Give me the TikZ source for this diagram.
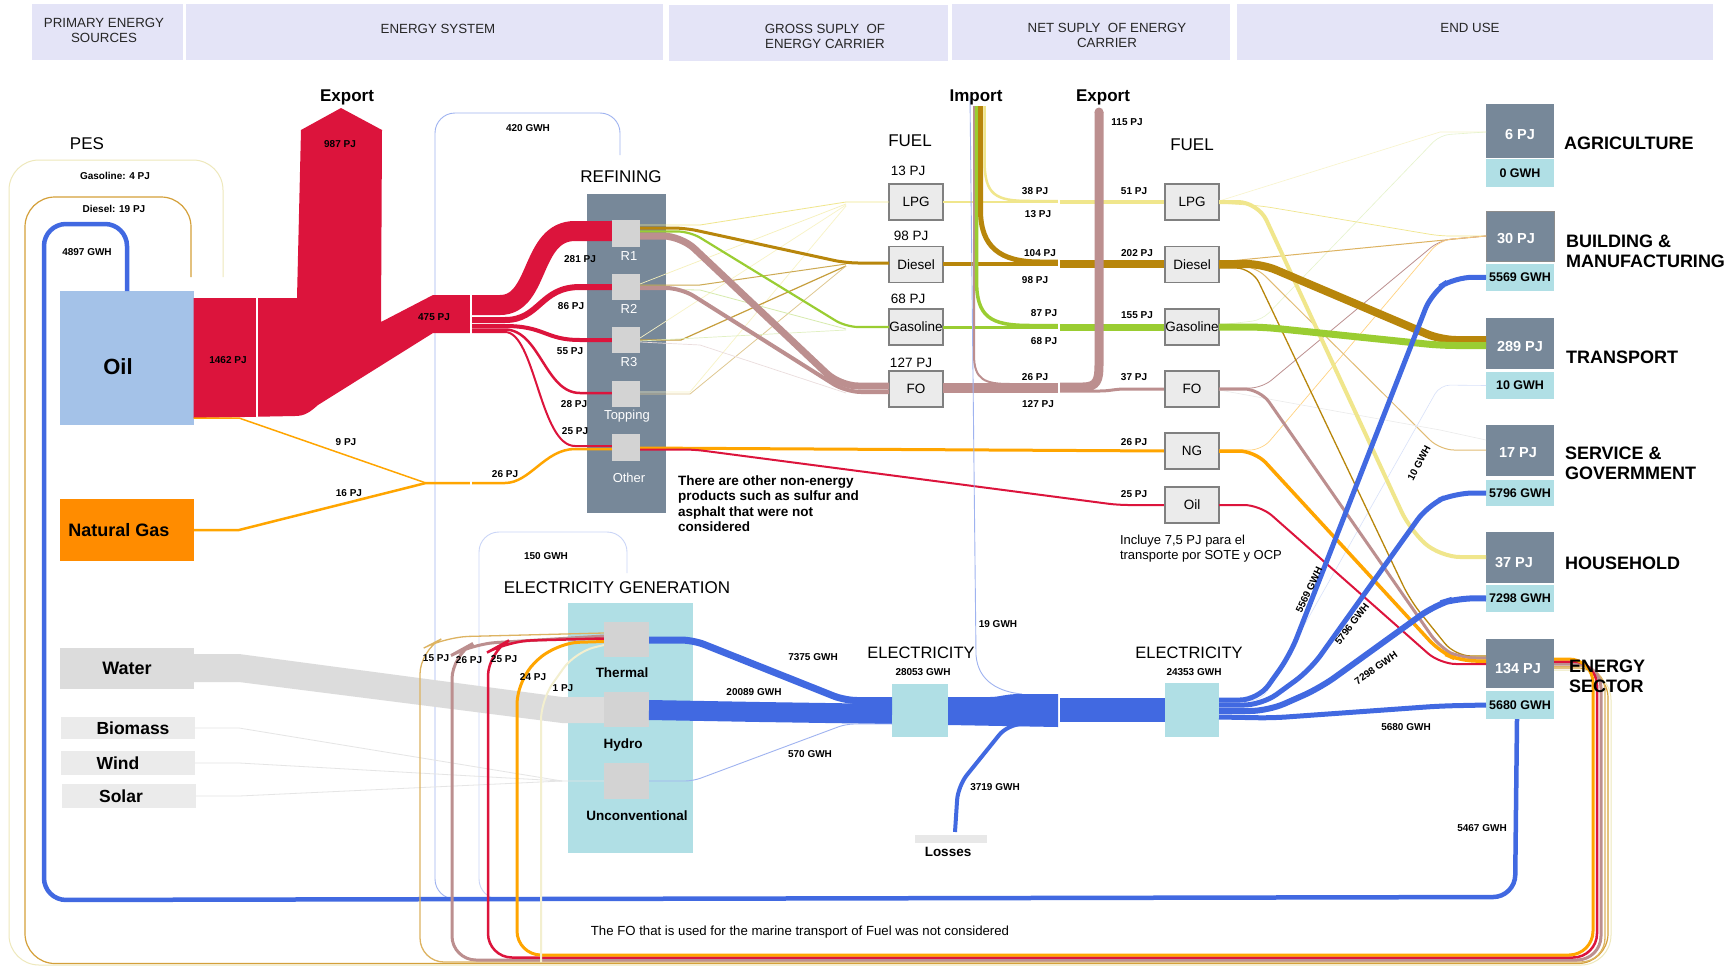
\documentclass[tikz,border=0pt]{standalone}
\usepackage{fontspec}
\setmainfont{Liberation Sans}
\usetikzlibrary{calc}
\definecolor{hdr}{HTML}{E4E4F7}
\definecolor{oilc}{HTML}{A4C2E8}
\definecolor{ngbox}{HTML}{FF8C00}
\definecolor{crim}{HTML}{DC143C}
\definecolor{slate}{HTML}{778899}
\definecolor{gold}{HTML}{B8860B}
\definecolor{ygreen}{HTML}{9ACD32}
\definecolor{rosy}{HTML}{BC8F8F}
\definecolor{khaki}{HTML}{F0E68C}
\definecolor{orng}{HTML}{FFA500}
\definecolor{royal}{HTML}{4169E1}
\definecolor{lblue}{HTML}{9FB3F0}
\definecolor{powder}{HTML}{B0DFE5}
\definecolor{subgray}{HTML}{D3D3D3}
\definecolor{lgray}{HTML}{EBEBEB}
\definecolor{wgray}{HTML}{DCDCDC}
\definecolor{goldr}{HTML}{D4A03A}
\definecolor{beige}{HTML}{EEE8BB}
\newcommand\lowr[2]{\raisebox{-#1pt}[\height][\depth]{#2}}
\begin{document}
\begin{tikzpicture}[x=1pt,y=-1pt,
  every node/.style={inner sep=0pt, outer sep=0pt},
  hdrbox/.style={fill=hdr, minimum height=56pt},
  hdrtxt/.style={align=center, text=black!85, font=\fontsize{13.3}{14.8}\selectfont},
  lab/.style={font=\fontsize{10}{12}\selectfont\bfseries},
  ttl/.style={font=\fontsize{17}{20}\selectfont},
  bttl/.style={font=\fontsize{17}{20}\selectfont\bfseries},
  srcbox/.style={minimum width=134pt, font=\bfseries},
  subbox/.style={fill=subgray, minimum width=28pt},
  rlab/.style={text=white, font=\fontsize{13}{15}\selectfont},
  fuelbox/.style={fill=lgray, draw=black!50, line width=1.2pt, minimum width=54pt, minimum height=36pt, font=\fontsize{13.5}{16}\selectfont},
  genbox/.style={fill=subgray, minimum width=45pt, minimum height=35pt},
  genlab/.style={font=\fontsize{13.5}{16}\selectfont\bfseries},
  usebox/.style={fill=slate, minimum width=68pt, text=white, font=\fontsize{14.5}{17}\selectfont\bfseries},
  gwhbox/.style={fill=powder, minimum width=68pt, font=\fontsize{12.5}{15}\selectfont\bfseries},
  uselab/.style={anchor=west, align=left, font=\fontsize{18}{20}\selectfont\bfseries},
  note/.style={align=left, anchor=north west, font=\fontsize{12.5}{15}\selectfont},
]
\useasboundingbox (0,0) rectangle (1736,966);
\fill[white] (0,0) rectangle (1736,966);

% ---------- headers
\node[hdrbox, minimum width=151pt] (h1) at (107.5,32) {};
\node[hdrbox, minimum width=477pt] (h2) at (424.5,32) {};
\node[hdrbox, minimum width=279pt] (h3) at (808.5,33) {};
\node[hdrbox, minimum width=278pt] (h4) at (1091,32) {};
\node[hdrbox, minimum width=476pt] (h5) at (1475,32) {};
\node[hdrtxt] (h1t) at (104,30.5) {PRIMARY ENERGY\\SOURCES};
\node[hdrtxt] (h2t) at (438,29) {ENERGY SYSTEM};
\node[hdrtxt] (h3t) at (825,36.5) {GROSS SUPLY\ \ OF\\ENERGY CARRIER};
\node[hdrtxt] (h4t) at (1107,35.5) {NET SUPLY\ \ OF ENERGY\\CARRIER};
\node[hdrtxt] (h5t) at (1470,28) {END USE};

% ---------- coordinates for free ends
\coordinate (refin) at (620,155);
\coordinate (genin) at (627,573);

% ---------- background boxes
\node[fill=slate, minimum width=79pt, minimum height=319pt] (refining) at (626.5,353.5) {};
\node[fill=powder, minimum width=125pt, minimum height=250pt] (egen) at (630.5,728) {};

% ---------- source boxes
\node[srcbox, fill=oilc, minimum height=134pt, font=\fontsize{22}{24}\selectfont\bfseries] (oil) at (126.5,358) {\lowr{9}{Oil}\hspace*{17pt}};
\node[srcbox, fill=ngbox, minimum height=62pt, font=\fontsize{18}{20}\selectfont\bfseries] (ng) at (127,530) {Natural Gas\hspace*{16pt}};
\node[srcbox, fill=wgray, minimum height=41pt, font=\fontsize{18}{20}\selectfont\bfseries] (water) at (127,668.5) {Water};
\node[srcbox, fill=lgray, minimum height=22pt, font=\fontsize{17.5}{20}\selectfont\bfseries] (biomass) at (128,728) {\hspace*{10pt}Biomass};
\node[srcbox, fill=lgray, minimum height=24pt, font=\fontsize{17.5}{20}\selectfont\bfseries] (wind) at (128,763) {Wind\hspace*{20pt}};
\node[srcbox, fill=lgray, minimum height=24pt, font=\fontsize{17.5}{20}\selectfont\bfseries] (solar) at (129,796) {Solar\hspace*{16pt}};

% ---------- electricity return loops (behind)
\draw[lblue, line width=0.9, rounded corners=20] (470,899) -- (435,899) -- (435,113) -- (620,113) -- (refin);
\draw[lblue!55, line width=0.9, rounded corners=20] (515,899) -- (479,899) -- (479,532) -- (627,532) -- (genin);

% ---------- fuel loops back from energy sector (far left ones)
\draw[beige, line width=1, rounded corners=30] (1554,670) -- (1611,670) -- (1611,965) -- (9,965) -- (9,160) -- (223,160) -- (223,277);
\draw[goldr, line width=1.2, rounded corners=30] (1554,668) -- (1608,668) -- (1608,963.5) -- (25,963.5) -- (25,197) -- (191,197) -- (191,277);

% ---------- water and renewables to generation
\fill[wgray] (water.east |- 0,654) -- (239,654) -- (562,697) -- (604,697) -- (604,723) -- (562,723) -- (239,682) -- (water.east |- 0,682) -- cycle;
\draw[black!10, line width=0.8] (biomass.east) -- (239,728) -- (562,781) -- (604,781);
\draw[black!10, line width=0.8] (wind.east) -- (239,763) -- (562,781);
\draw[black!10, line width=0.8] (solar.east) -- (239,796) -- (562,781);

% ---------- big blue return loop
\draw[royal, line width=4.5, rounded corners=22] (1517,719) -- (1515,897) -- (44,900) -- (44,224) -- (127,224) -- (oil.north -| 127,0);

% ---------- fuel feeds to thermal
\draw[goldr!80, line width=1.3, rounded corners=24] (1554,666.5) -- (1605,666.5) -- (1605,962) -- (420,962) -- (420,650) -- (445,637) -- (604,633);
\draw[rosy, line width=3, rounded corners=24] (1554,664) -- (1601,664) -- (1601,960) -- (452,960) -- (452,655) -- (472,644) -- (604,636);
\draw[crim, line width=2.5, rounded corners=24] (1554,661.5) -- (1597,661.5) -- (1597,957.5) -- (488,957.5) -- (488,652) -- (508,641) -- (604,638.5);
\draw[orng, line width=3, rounded corners=24] (1554,659) -- (1593,659) -- (1593,955) -- (517,955) -- (517,680) -- (555,643) -- (604,641.5);
\draw[beige!70, line width=2, rounded corners=20] (541,962) -- (541,700) -- (575,652) -- (604,645);

% ---------- oil main flow
\fill[crim] (oil.east |- 0,298) -- (297,298) -- (301,130) -- (341,108) -- (382,130) -- (381,322) -- (433,295) -- (470,295) -- (470,333) -- (433,333) -- (318,405) .. controls (310,412) and (305,416) .. (295,416) -- (oil.east |- 0,418) -- cycle;
\draw[white, line width=2] (257,294) -- (257,420);

% oil to refinery units
\draw[crim, line width=20] (472,305) -- (500,305) .. controls (540,305) and (530,231) .. (575,231) -- (612,231);
\draw[crim, line width=6] (472,320) -- (505,320) .. controls (540,320) and (540,287) .. (580,287) -- (612,287);
\draw[crim, line width=4] (472,326) -- (505,326) .. controls (545,326) and (545,340) .. (580,340) -- (612,340);
\draw[crim, line width=2.5] (472,329.5) -- (505,329.5) .. controls (540,330) and (545,393) .. (580,393) -- (612,393);
\draw[crim, line width=2] (472,332) -- (505,332) .. controls (535,332) and (540,446) .. (575,446) -- (612,446);

% natural gas
\draw[orng, line width=1.5] (oil.east |- 0,418) -- (239,418) -- (426,483);
\draw[orng, line width=2.5] (ng.east |- 0,530) -- (239,530) -- (426,483) -- (505,483) .. controls (530,483) and (545,449) .. (575,449) -- (612,449);
\draw[white, line width=2] (471,292) -- (471,488);

% ---------- refinery units
\node[subbox, minimum height=27pt] (r1) at (626,233.5) {};
\node[subbox, minimum height=26pt] (r2) at (626,287) {};
\node[subbox, minimum height=26pt] (r3) at (626,340) {};
\node[subbox, minimum height=26pt] (top) at (626,394) {};
\node[subbox, minimum height=27pt] (oth) at (626,447.5) {};
\node[rlab] (r1t) at (629,256) {R1};
\node[rlab] (r2t) at (629,309) {R2};
\node[rlab] (r3t) at (629,362) {R3};
\node[rlab] (topt) at (627,416) {Topping};
\node[rlab] (otht) at (629,478) {Other};

% ---------- gross fuel boxes
\node[fuelbox] (gLPG) at (916,202) {LPG};
\node[fuelbox] (gDie) at (916,264.5) {Diesel};
\node[fuelbox] (gGas) at (916,327) {Gasoline};
\node[fuelbox] (gFO) at (916,389) {FO};

% refinery outputs (faint)
\draw[khaki, line width=0.8] (r1.east |- 0,225) -- (700,225) -- (846,202) -- (gLPG.west |- 0,202);
\draw[khaki!60, line width=0.7] (r2.east |- 0,284) -- (846,204);
\draw[khaki!50, line width=0.7] (r3.east |- 0,338) -- (846,205);
\draw[khaki!50, line width=0.7] (top.east |- 0,392) -- (690,392) -- (846,206);
\draw[gold!70, line width=1] (r2.east |- 0,285) -- (700,285) -- (846,264);
\draw[gold!80, line width=1.2] (r3.east |- 0,340) -- (681,340) -- (846,266);
\draw[gold!45, line width=0.8] (top.east |- 0,394) -- (690,394) -- (846,266);
\draw[ygreen!40, line width=0.8] (r2.east |- 0,289) -- (700,290) -- (846,329);
\draw[ygreen!30, line width=0.7] (r3.east |- 0,341) -- (846,330);
\draw[rosy!30, line width=0.7] (r3.east |- 0,342) -- (700,345) -- (846,393);
% refinery outputs (main)
\draw[gold, line width=3, rounded corners=12] (r1.east |- 0,228) -- (685,228) -- (846,263) -- (gDie.west |- 0,263);
\draw[ygreen, line width=2.2, rounded corners=12] (r1.east |- 0,231.5) -- (690,231.5) -- (846,327) -- (gGas.west |- 0,327);
\draw[rosy, line width=7, rounded corners=18] (r1.east |- 0,236) -- (681,236) -- (840,386) -- (gFO.west |- 0,386);
\draw[rosy, line width=4, rounded corners=15] (r2.east |- 0,288) -- (681,288) -- (846,392) -- (gFO.west |- 0,392);
% other: NG and oil
\draw[orng, line width=3] (oth.east |- 0,448) -- (1165,451);
\draw[crim, line width=2, rounded corners=10] (oth.east |- 0,449.5) -- (694,449.5) -- (1118,505) -- (1165,505);

% ---------- gross to net
\draw[khaki, line width=2] (gLPG.east |- 0,202) -- (1058,202);
\draw[gold, line width=4] (gDie.east |- 0,264) -- (1058,264);
\draw[ygreen, line width=3] (gGas.east |- 0,327) -- (1058,327);
\draw[rosy, line width=10] (gFO.east |- 0,388) -- (1058,388);
% imports
\draw[lblue, line width=0.9] (970,96) -- (976,655) .. controls (978,682) and (1000,692) .. (1022,694);
\draw[rosy, line width=2] (974,106) -- (974,355) .. controls (974,380) and (985,384) .. (1010,384) -- (1058,384);
\draw[ygreen, line width=3.5] (976.5,106) -- (976.5,280) .. controls (976.5,317) and (990,325.5) .. (1030,325.5) -- (1058,325.5);
\draw[gold, line width=5] (980.5,106) -- (980.5,210) .. controls (980.5,247) and (1000,262) .. (1040,262) -- (1058,262);
\draw[khaki, line width=2.5] (984.5,106) -- (984.5,160) .. controls (984.5,195) and (995,201) .. (1030,201) -- (1058,201);
\draw[white, line width=2] (1059,194) -- (1059,397);
% after the gap
\draw[khaki, line width=3.5] (1060,202) -- (1165,202);
\draw[gold, line width=8] (1060,264) -- (1165,264);
\draw[ygreen, line width=7] (1060,327) -- (1165,327);
\draw[rosy, line width=3] (1060,391) -- (1100,391) .. controls (1110,391) and (1115,389) .. (1125,389) -- (1165,389);
\draw[rosy, line width=9] (1060,387) -- (1083,387) .. controls (1097,387) and (1099,380) .. (1099,365) -- (1099,112);
\fill[rosy] (1099,112) circle (4.5);

% ---------- net fuel boxes
\node[fuelbox] (nLPG) at (1192,202) {LPG};
\node[fuelbox] (nDie) at (1192,264.5) {Diesel};
\node[fuelbox] (nGas) at (1192,327) {Gasoline};
\node[fuelbox] (nFO) at (1192,389) {FO};
\node[fuelbox] (nNG) at (1192,451) {NG};
\node[fuelbox] (nOil) at (1192,505) {Oil};

% ---------- electricity generation
\node[genbox] (thermal) at (626.5,639.5) {};
\node[genbox] (hydro) at (626.5,709.5) {};
\node[genbox, minimum height=36pt] (uncon) at (626.5,781) {};
\node[genlab] (thermalt) at (622,673) {Thermal};
\node[genlab] (hydrot) at (623,745) {Hydro};
\node[genlab] (ucont) at (637,816) {Unconventional};

\node[fill=powder, minimum width=56pt, minimum height=53pt] (eGross) at (920,710.5) {};
\node[fill=powder, minimum width=54pt, minimum height=54pt] (eNet) at (1192,710) {};
\node[fill=black!9, minimum width=72pt, minimum height=8pt] (losses) at (951,839) {};

\draw[royal, line width=7, rounded corners=12] (thermal.east |- 0,640) -- (693,640) -- (845,700.5) -- (eGross.west |- 0,700.5);
\draw[royal, line width=20] (hydro.east |- 0,710) -- (760,712) -- (eGross.west |- 0,714);
\draw[lblue, line width=0.9, rounded corners=8] (uncon.east |- 0,781) -- (693,781) -- (846,724) -- (eGross.west |- 0,724);
\fill[royal] (eGross.east |- 0,697) -- (990,697) .. controls (1000,697) and (1005,694) .. (1020,694) -- (1058,694) -- (1058,727) -- (eGross.east |- 0,725) -- cycle;
\draw[royal, line width=4, rounded corners=14] (1040,724) -- (1008,724) -- (958,786) -- (955,832);
\fill[royal] (1060,698) rectangle (eNet.west |- 0,722);

% ---------- end use boxes
\node[usebox, minimum height=54pt] (agri) at (1520,131) {\lowr{4}{6 PJ}};
\node[gwhbox, minimum height=28pt] (agriE) at (1520,173) {0 GWH};
\node[usebox, minimum height=50pt, draw=black!45] (build) at (1520,236) {\lowr{3}{30 PJ}\hspace*{8pt}};
\node[gwhbox, minimum height=27pt] (buildE) at (1520,277.5) {5569 GWH};
\node[usebox, minimum height=51pt] (trans) at (1520,343.5) {\lowr{3}{289 PJ}};
\node[gwhbox, minimum height=27pt] (transE) at (1520,385.5) {10 GWH};
\node[usebox, minimum height=51pt] (serv) at (1520,450.5) {\lowr{2}{17 PJ}\hspace*{4pt}};
\node[gwhbox, minimum height=26pt] (servE) at (1520,493) {5796 GWH};
\node[usebox, minimum height=51pt] (house) at (1520,557.5) {\lowr{5}{37 PJ}\hspace*{12pt}};
\node[gwhbox, minimum height=27pt] (houseE) at (1520,598.5) {7298 GWH};
\node[usebox, minimum height=49pt] (energy) at (1520,663.5) {\lowr{5}{134 PJ}\hspace*{4pt}};
\node[gwhbox, minimum height=28pt] (energyE) at (1520,705) {5680 GWH};

% ---------- net fuel to end use (thin)
\draw[khaki!45, line width=0.6] (nLPG.east |- 0,201) -- (1440,132) -- (agri.west |- 0,132);
\draw[ygreen!25, line width=0.6, rounded corners=10] (nGas.east |- 0,325) -- (1262,320) -- (1440,135) -- (agri.west |- 0,132);
\draw[khaki, line width=0.7, rounded corners=10] (nLPG.east |- 0,203) -- (1262,206) -- (1440,236) -- (build.west |- 0,236);
\draw[goldr!80, line width=1] (nDie.east |- 0,262) -- (build.west |- 0,236);
\draw[rosy, line width=0.8, rounded corners=12] (nFO.east |- 0,388) -- (1262,388) -- (1440,240) -- (build.west |- 0,236);
\draw[orng!50, line width=0.7, rounded corners=12] (nNG.east |- 0,450) -- (1262,450) -- (1440,240) -- (build.west |- 0,236);
\draw[goldr!70, line width=1, rounded corners=14] (nDie.east |- 0,266) -- (1255,266) -- (1440,450) -- (serv.west |- 0,450);
\draw[black!8, line width=0.6] (nFO.east |- 0,390) -- (1440,430) -- (serv.west |- 0,440);
\draw[lblue!40, line width=0.6, rounded corners=10] (eNet.east |- 0,703) -- (1262,700) -- (1440,385) -- (transE.west);
% net fuel to end use (main)
\draw[gold, line width=1.3, rounded corners=16] (nDie.east |- 0,268) -- (1252,268) -- (1410,600) -- (1455,656) -- (energy.west |- 0,656);
\draw[crim, line width=2, rounded corners=16] (nOil.east |- 0,505) -- (1260,505) -- (1440,664) -- (energy.west |- 0,664);
\draw[rosy, line width=3, rounded corners=16] (nFO.east |- 0,389) -- (1260,389) -- (1440,648) -- (1460,658) -- (energy.west |- 0,658);
\draw[orng, line width=3.5, rounded corners=16] (nNG.east |- 0,451) -- (1255,451) -- (1440,652) -- (1460,661) -- (energy.west |- 0,661);
\draw[khaki, line width=4, rounded corners=20] (nLPG.east |- 0,202) -- (1258,202) -- (1410,530) -- (1440,557) -- (house.west |- 0,557);
\draw[gold, line width=8, rounded corners=15] (nDie.east |- 0,264) -- (1262,264) -- (1441,340) -- (trans.west |- 0,340);
\draw[ygreen, line width=7, rounded corners=15] (nGas.east |- 0,327) -- (1262,327) -- (1441,345.5) -- (trans.west |- 0,345.5);
% electricity to end use
\draw[royal, line width=5, rounded corners=18] (eNet.east |- 0,700) -- (1258,700) -- (1290,655) -- (1432,292) -- (1455,277) -- (buildE.west);
\draw[royal, line width=5, rounded corners=18] (eNet.east |- 0,705) -- (1262,705) -- (1310,670) -- (1428,505) -- (1455,493) -- (servE.west);
\draw[royal, line width=6, rounded corners=18] (eNet.east |- 0,711) -- (1268,711) -- (1320,688) -- (1435,605) -- (1458,598) -- (houseE.west);
\draw[royal, line width=5, rounded corners=14] (eNet.east |- 0,717) -- (1272,718) -- (1440,706) -- (energyE.west);

% ---------- titles
\node[ttl] (pes) at (87,144) {PES};
\node[bttl] (exp1) at (347,97) {Export};
\node[ttl] (reft) at (621,177) {REFINING};
\node[ttl] (fuel1) at (910,141) {FUEL};
\node[ttl] (fuel2) at (1192,145) {FUEL};
\node[bttl] (impt) at (976,97) {Import};
\node[bttl] (exp2) at (1103,97) {Export};
\node[ttl] (egent) at (617,588) {ELECTRICITY GENERATION};
\node[ttl, font=\fontsize{16.5}{20}\selectfont] (el1) at (921,653) {ELECTRICITY};
\node[ttl, font=\fontsize{16.5}{20}\selectfont] (el2) at (1189,653) {ELECTRICITY};
\node[genlab] (losst) at (948,852) {Losses};

\node[font=\fontsize{13.5}{16}\selectfont] (g13) at (908,171) {13 PJ};
\node[font=\fontsize{13.5}{16}\selectfont] (g98) at (911,236) {98 PJ};
\node[font=\fontsize{13.5}{16}\selectfont] (g68) at (908,299) {68 PJ};
\node[font=\fontsize{13.5}{16}\selectfont] (g127) at (911,363) {127 PJ};

\node[uselab] (agril) at (1564,143) {AGRICULTURE};
\node[uselab] (buildl) at (1566,251) {BUILDING \&\\MANUFACTURING};
\node[uselab] (transl) at (1566,357) {TRANSPORT};
\node[uselab] (servl) at (1565,463) {SERVICE \&\\GOVERMMENT};
\node[uselab] (housel) at (1565,563) {HOUSEHOLD};
\node[uselab] (energyl) at (1569,676) {ENERGY\\SECTOR};

% ---------- notes
\node[note, font=\fontsize{13.5}{15.2}\selectfont\bfseries] (nonen) at (678,476) {There are other non-energy\\products such as sulfur and\\asphalt that were not\\considered};
\node[note, font=\fontsize{13}{15}\selectfont] (incl) at (1120,535) {Incluye 7,5 PJ para el\\transporte por SOTE y OCP};
\node[font=\fontsize{13.2}{15}\selectfont] (fonote) at (800,932) {The FO that is used for the marine transport of Fuel was not considered};

% ---------- small labels
\node[lab] at (87,252) {4897 GWH};
\node[lab] at (115,176) {Gasoline: 4 PJ};
\node[lab] at (114,209) {Diesel: 19 PJ};
\node[lab] at (228,360) {1462 PJ};
\node[lab] at (340,144) {987 PJ};
\node[lab] at (434,317) {475 PJ};
\node[lab] at (528,128) {420 GWH};
\node[lab] at (580,259) {281 PJ};
\node[lab] at (571,306) {86 PJ};
\node[lab] at (570,351) {55 PJ};
\node[lab] at (574,404) {28 PJ};
\node[lab] at (575,431) {25 PJ};
\node[lab] at (346,442) {9 PJ};
\node[lab] at (349,493) {16 PJ};
\node[lab] at (505,474) {26 PJ};
\node[lab] at (546,556) {150 GWH};
\node[lab] at (436,658) {15 PJ};
\node[lab] at (469,660) {26 PJ};
\node[lab] at (504,659) {25 PJ};
\node[lab] at (533,677) {24 PJ};
\node[lab] at (563,688) {1 PJ};
\node[lab] at (813,657) {7375 GWH};
\node[lab] at (754,692) {20089 GWH};
\node[lab] at (810,754) {570 GWH};
\node[lab] at (923,672) {28053 GWH};
\node[lab] at (1194,672) {24353 GWH};
\node[lab] at (998,624) {19 GWH};
\node[lab] at (995,787) {3719 GWH};
\node[lab] at (1035,191) {38 PJ};
\node[lab] at (1038,214) {13 PJ};
\node[lab] at (1040,253) {104 PJ};
\node[lab] at (1035,280) {98 PJ};
\node[lab] at (1044,313) {87 PJ};
\node[lab] at (1044,341) {68 PJ};
\node[lab] at (1035,377) {26 PJ};
\node[lab] at (1038,404) {127 PJ};
\node[lab] at (1127,122) {115 PJ};
\node[lab] at (1134,191) {51 PJ};
\node[lab] at (1137,253) {202 PJ};
\node[lab] at (1137,315) {155 PJ};
\node[lab] at (1134,377) {37 PJ};
\node[lab] at (1134,442) {26 PJ};
\node[lab] at (1134,494) {25 PJ};
\node[lab, rotate=65] at (1309,590) {5569 GWH};
\node[lab, rotate=53] at (1352,624) {5796 GWH};
\node[lab, rotate=35] at (1376,668) {7298 GWH};
\node[lab, rotate=62] at (1419,463) {10 GWH};
\node[lab] at (1406,727) {5680 GWH};
\node[lab] at (1482,828) {5467 GWH};
\end{tikzpicture}
\end{document}
